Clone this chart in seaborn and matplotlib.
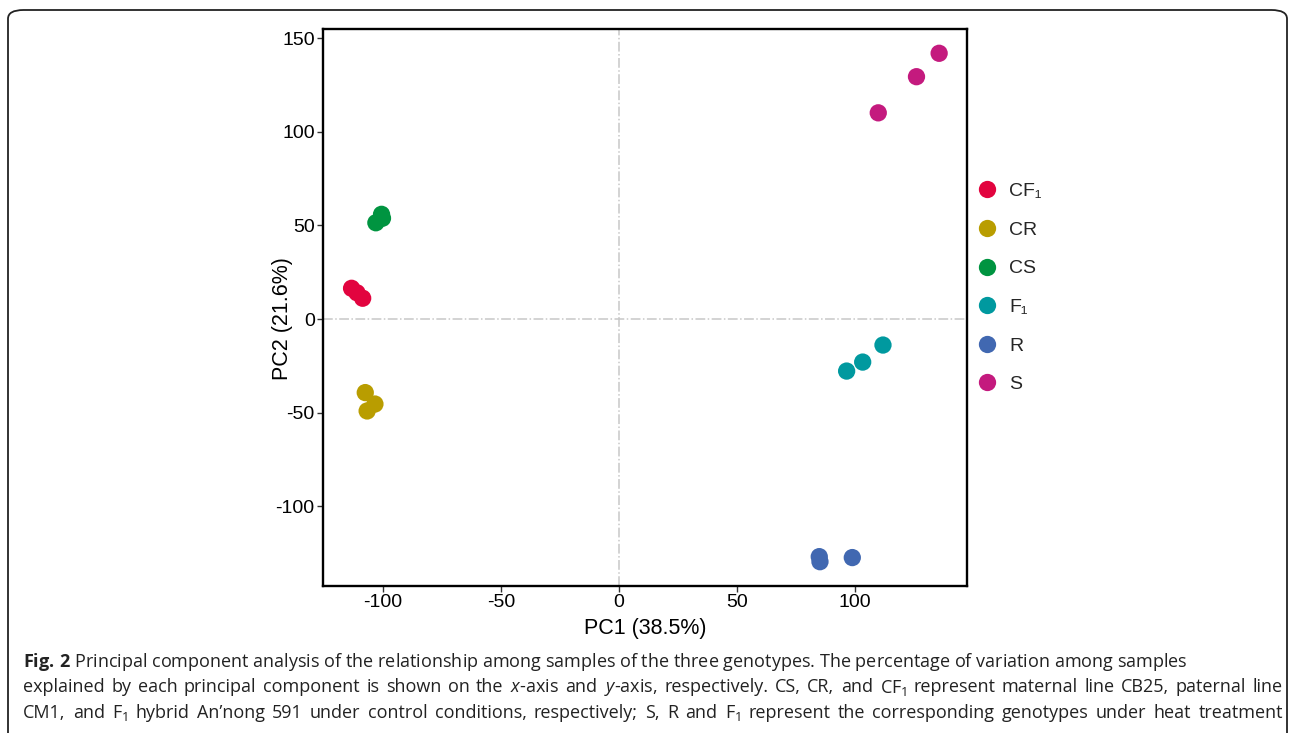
import pandas as pd
import seaborn as sns
import matplotlib.pyplot as plt
from matplotlib.patches import FancyBboxPatch

# PCA scores (three replicates per group)
groups = ['CF₁'] * 3 + ['CR'] * 3 + ['CS'] * 3 + ['F₁'] * 3 + ['R'] * 3 + ['S'] * 3
pc1 = [-113.3, -111.0, -108.6,
       -107.5, -103.4, -106.7,
       -103.0, -100.6, -100.2,
       111.9, 103.3, 96.5,
       84.9, 85.2, 98.9,
       135.7, 126.1, 109.9]
pc2 = [16.4, 14.0, 11.1,
       -39.3, -45.4, -49.1,
       51.4, 55.9, 53.8,
       -13.9, -23.0, -27.8,
       -126.9, -129.6, -127.4,
       141.9, 129.4, 110.1]

group_order = ['CF₁', 'CR', 'CS', 'F₁', 'R', 'S']
group_colors = ['#e2043f', '#b99d00', '#009440', '#00999f', '#4168b1', '#c41a7e']

x_ticks = [-100, -50, 0, 50, 100]
y_ticks = [-100, -50, 0, 50, 100, 150]

df = pd.DataFrame({'PC1': pc1, 'PC2': pc2, 'Group': groups})

sns.set_style('white')
plt.rcParams['font.family'] = ['Liberation Sans', 'DejaVu Sans']
plt.rcParams['axes.unicode_minus'] = False
plt.rcParams['mathtext.fontset'] = 'custom'
plt.rcParams['mathtext.rm'] = 'Open Sans'
plt.rcParams['mathtext.it'] = 'Open Sans:italic'
plt.rcParams['mathtext.bf'] = 'Open Sans:bold'

W, H = 1290, 733
fig = plt.figure(figsize=(W / 100, H / 100), dpi=100)
ax = fig.add_axes([0.2504, 0.201, 0.4992, 0.759])

# dashed reference lines through the origin
ax.axvline(0, color='#c8c8c8', lw=1.1, ls='-.', zorder=0)
ax.axhline(0, color='#c8c8c8', lw=1.1, ls='-.', zorder=0)

sns.scatterplot(data=df, x='PC1', y='PC2', hue='Group', hue_order=group_order,
                palette=dict(zip(group_order, group_colors)),
                s=155, linewidth=0, ax=ax, zorder=3)

ax.set_xlim(-125.4, 147.5)
ax.set_ylim(-142.4, 154.7)
ax.set_xticks(x_ticks)
ax.set_yticks(y_ticks)
ax.set_xlabel('PC1 (38.5%)', fontsize=15.5, labelpad=5, color='black')
ax.set_ylabel('PC2 (21.6%)', fontsize=15.5, color='black')
ax.yaxis.set_label_coords(-0.047, 0.48)
ax.tick_params(axis='both', labelsize=14, length=4, width=1, color='#333333',
               labelcolor='black', direction='out', bottom=True, left=True, pad=2)
for sp in ax.spines.values():
    sp.set_linewidth(1.7)
    sp.set_color('black')

sns.move_legend(ax, 'upper left', bbox_to_anchor=(0.750, 0.751),
                bbox_transform=fig.transFigure, frameon=False, title=None,
                fontsize=14, markerscale=1.0, handletextpad=0.15,
                labelspacing=1.08, borderpad=0, borderaxespad=0)

# outer rounded frame of the figure panel
frame = FancyBboxPatch((8 / W, -0.05), (1287 - 8) / W, 1.05 - 10 / H,
                       boxstyle='round,pad=0,rounding_size=0.012',
                       transform=fig.transFigure, fill=False,
                       ec='#222222', lw=1.3, clip_on=False)
fig.patches.append(frame)

# caption, lines 2 and 3 justified like the journal layout
cap_lines = [
    r'$\mathbf{Fig.\,2}$ Principal component analysis of the relationship among samples of the three genotypes. The percentage of variation among samples',
    r'explained by each principal component is shown on the $\mathit{x}$-axis and $\mathit{y}$-axis, respectively. CS, CR, and CF$_\mathrm{1}$ represent maternal line CB25, paternal line',
    r'CM1, and F$_\mathrm{1}$ hybrid An’nong 591 under control conditions, respectively; S, R and F$_\mathrm{1}$ represent the corresponding genotypes under heat treatment',
]
justify = [False, True, True]
cap_left, cap_right = 23, 1283
cap_size = 13.0
renderer = fig.canvas.get_renderer()
for i, line in enumerate(cap_lines):
    y = 1 - (662 + 25.5 * i) / H
    if not justify[i]:
        fig.text(cap_left / W, y, line, fontsize=cap_size, family='Open Sans',
                 va='center', ha='left', color='#222222')
        continue
    words = line.split(' ')
    texts = [fig.text(0, y, w, fontsize=cap_size, family='Open Sans', va='center',
                      ha='left', color='#222222') for w in words]
    widths = [t.get_window_extent(renderer).width for t in texts]
    gap = (cap_right - cap_left - sum(widths)) / (len(words) - 1)
    x = cap_left
    for t, w in zip(texts, widths):
        t.set_x(x / W)
        x += w + gap

fig.savefig('out.png', dpi=100)
